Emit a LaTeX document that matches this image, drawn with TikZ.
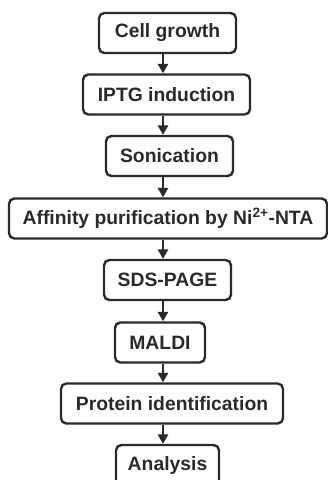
\documentclass[tikz,border=0pt]{standalone}
\usepackage{fontspec}
\setmainfont{Liberation Sans}
\usetikzlibrary{arrows.meta}
\definecolor{ink}{HTML}{2A2A2A}
\begin{document}
\begin{tikzpicture}[x=0.75pt,y=-0.75pt,
  stepbox/.style={draw=ink, line width=1.8pt, rounded corners=4pt, text=ink,
    font=\bfseries\fontsize{14.5}{16}\selectfont, inner sep=0pt, minimum height=30pt},
  arr/.style={draw=ink, line width=1.8pt, -{Triangle[length=7pt,width=7.5pt]}}]
\useasboundingbox (0,0) rectangle (328,480);
\node[stepbox, minimum width=137*0.75pt] (b1) at (167.5,33) {Cell growth};
\node[stepbox, minimum width=167*0.75pt] (b2) at (166.5,94.5) {IPTG induction};
\node[stepbox, minimum width=127*0.75pt] (b3) at (169.5,156) {Sonication};
\node[stepbox, minimum width=318*0.75pt] (b4) at (168,218.5) {Affinity purification by Ni\textsuperscript{2+}-NTA};
\node[stepbox, minimum width=127*0.75pt] (b5) at (167.5,280) {SDS-PAGE};
\node[stepbox, minimum width=90*0.75pt] (b6) at (160,342.5) {MALDI};
\node[stepbox, minimum width=222*0.75pt] (b7) at (172,403.5) {Protein identification};
\node[stepbox, minimum width=103*0.75pt] (b8) at (167.5,465) {Analysis};
\coordinate (ax) at (163,0);
\foreach \a/\b in {b1/b2,b2/b3,b3/b4,b4/b5,b5/b6,b6/b7,b7/b8}
  \draw[arr] (\a.south -| ax) -- (\b.north -| ax);
\end{tikzpicture}
\end{document}
